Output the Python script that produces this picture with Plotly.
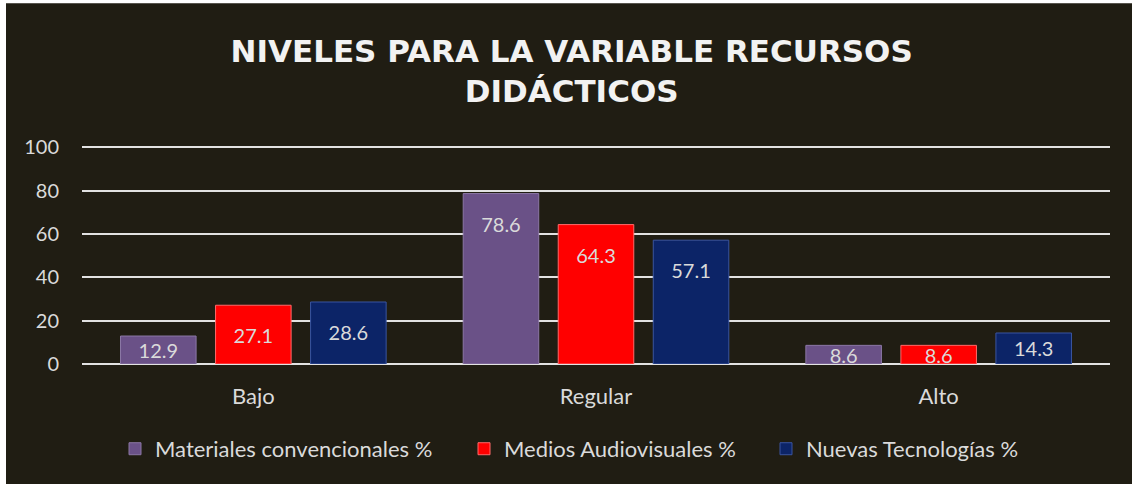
import plotly.graph_objects as go

categories = ["Bajo", "Regular", "Alto"]
series_names = ["Materiales convencionales %", "Medios Audiovisuales %", "Nuevas Tecnologías %"]
materiales = [12.9, 78.6, 8.6]
medios = [27.1, 64.3, 8.6]
nuevas = [28.6, 57.1, 14.3]
y_ticks = [0, 20, 40, 60, 80, 100]
title_text = "NIVELES PARA LA VARIABLE RECURSOS<br>DIDÁCTICOS"

W, H = 1132, 484
Y_TOP = 101.0
ppu = 217 / 100.0  # pixels per unit (0 at y=364, 100 at y=147)
ML, MR, MB = 82, 22, 120
plot_h = Y_TOP * ppu
MT = H - MB - plot_h
plot_w = W - ML - MR

colors = ["#6a5187", "#ff0000", "#0c2467"]
edge = ["#8c78a6", "#ff6a6a", "#3a55a0"]
bg = "#201d13"
txt = "#dadada"
font_family = "Lato, 'Open Sans', sans-serif"

legend_ids = ["legend", "legend2", "legend3"]
legend_text_x = [155, 504, 806]

fig = go.Figure()
all_series = [materiales, medios, nuevas]
for i, (name, vals) in enumerate(zip(series_names, all_series)):
    fig.add_trace(go.Bar(
        x=categories, y=vals, name=name, offsetgroup=str(i), legend=legend_ids[i],
        marker=dict(color=colors[i], line=dict(color=edge[i], width=1)),
        hoverinfo="skip",
    ))
for i, vals in enumerate(all_series):
    offs = [min(30 / ppu, v / 2) for v in vals]
    fig.add_trace(go.Bar(
        x=categories, y=[2 * o for o in offs], base=[v - 2 * o for v, o in zip(vals, offs)],
        offsetgroup=str(i), showlegend=False,
        marker=dict(color="rgba(0,0,0,0)", line=dict(width=0)),
        text=[f"{v:.1f}" for v in vals], textposition="inside",
        insidetextanchor="middle", constraintext="none",
        textfont=dict(family=font_family, size=20, color=txt),
        hoverinfo="skip",
    ))

fig.add_shape(type="rect", xref="paper", yref="paper", layer="below",
              x0=(6 - ML) / plot_w, x1=(W + 10 - ML) / plot_w,
              y0=-(H + 10 - MT - plot_h) / plot_h, y1=(MT + plot_h - 3) / plot_h,
              fillcolor=bg, line=dict(width=0))

legend_style = {}
for lid, tx in zip(legend_ids, legend_text_x):
    legend_style[lid] = dict(orientation="h", x=(tx - 40 - ML) / plot_w, xanchor="left",
                             y=(MT + plot_h - 449) / plot_h, yanchor="middle",
                             font=dict(family=font_family, size=22, color=txt),
                             bgcolor="rgba(0,0,0,0)", borderwidth=0)

fig.update_layout(
    width=W, height=H,
    margin=dict(l=ML, r=MR, t=MT, b=MB),
    paper_bgcolor="white", plot_bgcolor=bg,
    barmode="group", bargap=0.168, bargroupgap=0.205,
    title=dict(text=title_text, x=0.505, xanchor="center", y=1 - 62 / H, yanchor="middle",
               yref="container",
               font=dict(family="'DejaVu Sans', sans-serif", size=31, color="#f2f2f2", weight="bold")),
    font=dict(family=font_family, size=19, color=txt),
    xaxis=dict(showgrid=False, ticks="", ticklabelstandoff=17, showline=False,
               tickfont=dict(family=font_family, size=22, color=txt)),
    yaxis=dict(range=[0, Y_TOP], tickvals=y_ticks, showgrid=True, gridcolor="#e2e2e2", gridwidth=2,
               zeroline=True, zerolinecolor="#e2e2e2", zerolinewidth=2,
               ticks="", ticklabelstandoff=22,
               tickfont=dict(family=font_family, size=20, color=txt)),
    **legend_style,
)

fig.write_html("out.html", config={"displayModeBar": False},
               post_script="document.body.style.margin='0px';")
